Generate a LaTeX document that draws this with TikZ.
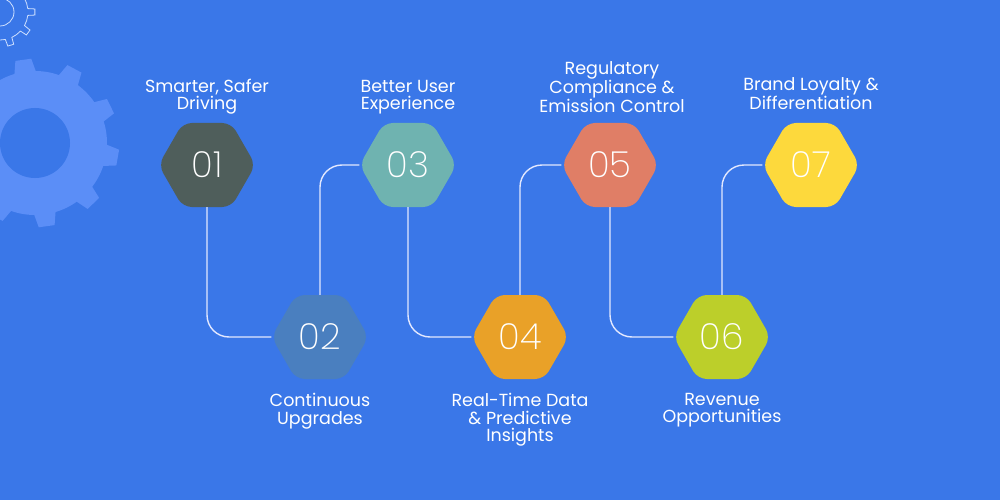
\documentclass[tikz,border=0pt]{standalone}
\usepackage{fontspec}
\setmainfont{Poppins}
\newfontfamily\numfont{Poppins ExtraLight}
\usetikzlibrary{shapes.geometric}
\definecolor{bgblue}{HTML}{3A77E8}
\definecolor{gearblue}{HTML}{5B8EF7}
\definecolor{gearline}{HTML}{CFE0FF}
\definecolor{linkline}{HTML}{E2E8FF}
\definecolor{hexa}{HTML}{4F5E5B}
\definecolor{hexb}{HTML}{4A7FBF}
\definecolor{hexc}{HTML}{6FB3B0}
\definecolor{hexd}{HTML}{E9A128}
\definecolor{hexe}{HTML}{E07E66}
\definecolor{hexf}{HTML}{BCCF2A}
\definecolor{hexg}{HTML}{FDD93C}

\begin{document}
\begin{tikzpicture}[x=1pt, y=-1pt,
    hexnode/.style={regular polygon, regular polygon sides=6, fill=#1,
                    minimum size=97pt, inner sep=0pt, rounded corners=9pt,
                    text=white, font=\numfont\fontsize{36}{36}\selectfont},
    toplab/.style={anchor=south, align=center, inner sep=0pt, text=white,
                   text depth=4pt, font=\fontsize{17.5}{17.5}\selectfont},
    botlab/.style={anchor=north, align=center, inner sep=0pt, text=white,
                   font=\fontsize{17.5}{17.5}\selectfont},
    link/.style={draw=linkline, line width=1.4pt, rounded corners=22pt}]

\useasboundingbox (0,0) rectangle (1000,500);
\clip (0,0) rectangle (1000,500);
\fill[bgblue] (0,0) rectangle (1000,500);

% Gears in the corner
\fill[gearblue] (35,143) circle[radius=72];
\foreach \a in {8,44,...,332}
  \fill[gearblue, shift={(35,143)}, rotate=\a]
    (-11,-70) -- (-8,-84) -- (8,-84) -- (11,-70) -- cycle;
\fill[bgblue] (35,143) circle[radius=35];
\draw[gearline, line width=0.8pt, shift={(0,12)}] (-7:28)
  \foreach \a in {0,36,...,324} {
    -- ({\a-7}:28) -- ({\a-5}:35) -- ({\a+5}:35) -- ({\a+7}:28)
    arc[start angle=\a+7, end angle=\a+29, radius=28] } -- cycle;
\draw[gearline, line width=0.8pt] (0,12) circle[radius=14];

% Hexagons
\node[hexnode=hexa] (h1) at (207,165) {01};
\node[hexnode=hexb] (h2) at (320,337) {02};
\node[hexnode=hexc] (h3) at (408,165) {03};
\node[hexnode=hexd] (h4) at (520,337) {04};
\node[hexnode=hexe] (h5) at (610,165) {05};
\node[hexnode=hexf] (h6) at (722,337) {06};
\node[hexnode=hexg] (h7) at (811,165) {07};

% Links between steps
\path[link] (h1.south) |- (h2.west);
\path[link] (h2.north) |- (h3.west);
\path[link] (h3.south) |- (h4.west);
\path[link] (h4.north) |- (h5.west);
\path[link] (h5.south) |- (h6.west);
\path[link] (h6.north) |- (h7.west);

% Labels above
\node[toplab] (l1) at (207,114) {Smarter, Safer\\Driving};
\node[toplab] (l3) at (408,114) {Better User\\Experience};
\node[toplab] (l5) at (612,117) {Regulatory\\Compliance \&\\Emission Control};
\node[toplab] (l7) at (811,114) {Brand Loyalty \&\\Differentiation};

% Labels below
\node[botlab] (l2) at (320,393) {Continuous\\Upgrades};
\node[botlab] (l4) at (520,393) {Real-Time Data\\\& Predictive\\Insights};
\node[botlab] (l6) at (722,393) {Revenue\\Opportunities};

\end{tikzpicture}
\end{document}
